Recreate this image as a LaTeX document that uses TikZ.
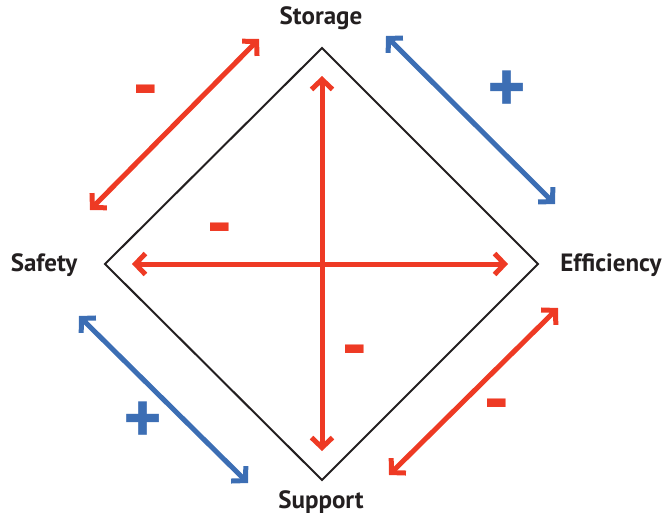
\documentclass[tikz,border=0pt]{standalone}
\usepackage{fontspec}
\setmainfont{PT Sans}
\usetikzlibrary{arrows.meta}
\definecolor{cred}{RGB}{238,58,36}
\definecolor{cblue}{RGB}{60,110,180}
\definecolor{cdark}{RGB}{35,31,32}
\tikzset{
  dbl/.style={line width=5pt,{Straight Barb[length=10pt,width=21pt]}-{Straight Barb[length=10pt,width=21pt]}},
  redarr/.style={dbl,draw=cred},
  bluearr/.style={dbl,draw=cblue},
  lbl/.style={font=\fontsize{25}{30}\selectfont\bfseries,text=cdark,inner sep=0pt},
  sgn/.style={font=\fontsize{74}{80}\selectfont\bfseries,inner sep=0pt},
}
\begin{document}
\begin{tikzpicture}[x=1pt,y=-1pt]
\useasboundingbox (0,0) rectangle (666,517);
% diamond
\coordinate (T) at (322,48);
\coordinate (R) at (538,264);
\coordinate (B) at (322,480);
\coordinate (L) at (105,264);
\draw[cdark,line width=2pt,line join=miter] (T) -- (R) -- (B) -- (L) -- cycle;
% labels
\node[lbl] (storage) at (321,18) {Storage};
\node[lbl] (efficiency) at (611,265) {Efficiency};
\node[lbl] (support) at (321,502) {Support};
\node[lbl] (safety) at (44,265) {Safety};
% arrow ends
\coordinate (a1) at (90,210);  \coordinate (a2) at (259,39);
\coordinate (b1) at (386,36);  \coordinate (b2) at (555,204);
\coordinate (c1) at (389,475); \coordinate (c2) at (558,308);
\coordinate (d1) at (79,316);  \coordinate (d2) at (248,483);
\coordinate (v1) at (322,76);  \coordinate (v2) at (322,451);
\coordinate (h1) at (132,264); \coordinate (h2) at (508,264);
\draw[redarr] (a1) -- (a2);
\draw[bluearr] (b1) -- (b2);
\draw[redarr] (c1) -- (c2);
\draw[bluearr] (d1) -- (d2);
\draw[redarr] (v1) -- (v2);
\draw[redarr] (h1) -- (h2);
% signs
\node[sgn,text=cred] (s1) at (146,98) {-};
\node[sgn,text=cblue] (s2) at (507,92) {+};
\node[sgn,text=cred] (s3) at (220,236) {-};
\node[sgn,text=cred] (s4) at (355,358) {-};
\node[sgn,text=cblue] (s5) at (143,423) {+};
\node[sgn,text=cred] (s6) at (497,412) {-};
\end{tikzpicture}
\end{document}
